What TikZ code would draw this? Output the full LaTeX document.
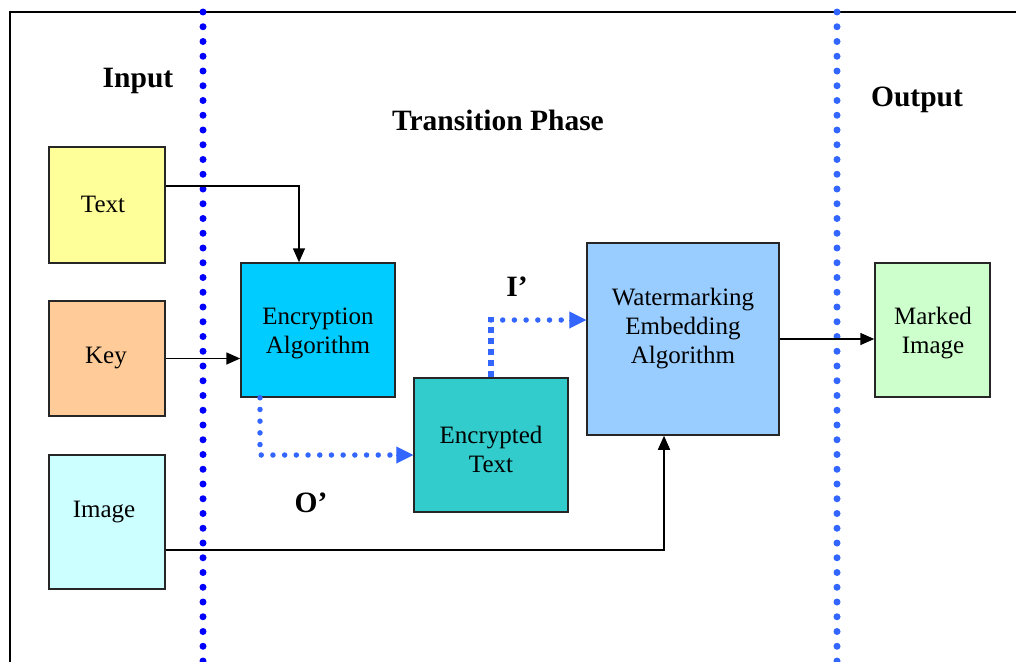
\documentclass[tikz,border=0pt]{standalone}
\usepackage{fontspec}
\setmainfont{Liberation Serif}
\usetikzlibrary{arrows.meta,calc}
\definecolor{cText}{HTML}{FFFF99}
\definecolor{cKey}{HTML}{FFCC99}
\definecolor{cImg}{HTML}{CCFFFF}
\definecolor{cEnc}{HTML}{00CCFF}
\definecolor{cEt}{HTML}{33CCCC}
\definecolor{cWm}{HTML}{99CCFF}
\definecolor{cMk}{HTML}{CCFFCC}
\definecolor{dotA}{HTML}{0000FF}
\definecolor{dotB}{HTML}{3366FF}
\tikzset{
  box/.style={draw=black!85, line width=1.5pt, inner sep=0pt},
  boxtext/.style={align=center, font=\fontsize{25}{29}\selectfont, inner sep=0pt},
  title/.style={font=\fontsize{29.5}{33}\selectfont\bfseries, inner sep=0pt},
  arr/.style={line width=1.6pt, -{Triangle[length=14pt,width=12pt]}},
  divider/.style={line width=7pt, line cap=round, dash pattern=on 0pt off 14.75pt},
  dotflow/.style={dotB, line width=5.5pt, line cap=round, dash pattern=on 0pt off 11.7pt},
  sqflow/.style={dotB, line width=6pt, dash pattern=on 6pt off 5pt},
  bluetip/.style={dotB, line width=1pt, -{Triangle[length=17pt,width=17pt]}},
}
\begin{document}
\begin{tikzpicture}[x=1pt,y=-1pt]
\useasboundingbox (0,0) rectangle (1016,661);
% frame
\coordinate (ftl) at (10,12);
\coordinate (ftr) at (1016,12);
\coordinate (fbl) at (10,661);
\draw[line width=2pt, line cap=rect] (ftr) -- (ftl) -- (fbl);
% dividers
\coordinate (d1t) at (203,12);
\coordinate (d1b) at (203,661);
\coordinate (d2t) at (837,12);
\coordinate (d2b) at (837,661);
\draw[divider, dotA] (d1t) -- (d1b);
\draw[divider, dotB] (d2t) -- (d2b);
% titles
\node[title] (tin) at (138,81) {Input};
\node[title] (ttr) at (498,120) {Transition Phase};
\node[title] (tout) at (917,100) {Output};
\node[title] (tI) at (517,287) {I’};
\node[title] (tO) at (311,503) {O’};
% boxes
\node[box, fill=cText, minimum width=116pt, minimum height=116pt] (txt) at (107,205) {};
\node[box, fill=cKey, minimum width=116pt, minimum height=115pt] (key) at (107,358.5) {};
\node[box, fill=cImg, minimum width=116pt, minimum height=134pt] (img) at (107,522) {};
\node[box, fill=cEnc, minimum width=154pt, minimum height=134pt] (enc) at (318,330) {};
\node[box, fill=cEt, minimum width=154pt, minimum height=134pt] (et) at (491,445) {};
\node[box, fill=cWm, minimum width=192pt, minimum height=192pt] (wm) at (683,339) {};
\node[box, fill=cMk, minimum width=115pt, minimum height=134pt] (mk) at (932.5,330) {};
% box texts
\node[boxtext] (ltxt) at (103,204) {Text};
\node[boxtext] (lkey) at (106,358) {Key};
\node[boxtext] (limg) at (104,512) {Image};
\node[boxtext] (lenc) at (318,333) {Encryption\\Algorithm};
\node[boxtext] (let) at (491,449) {Encrypted\\Text};
\node[boxtext] (lwm) at (683,329) {Watermarking\\Embedding\\Algorithm};
\node[boxtext] (lmk) at (933,333) {Marked\\Image};
% black connectors
\draw[arr] ([yshift=19]txt.east) -| ([xshift=-19]enc.north);
\draw[arr] (key.east) -- (key.east -| enc.west);
\draw[arr] ([yshift=-28]img.east) -| ([xshift=-19]wm.south);
\draw[arr] (wm.east) -- (wm.east -| mk.west);
% blue dotted connectors
\coordinate (c1) at (260,455);
\coordinate (c2) at (491,320);
\draw[dotflow] (enc.south -| c1) -- (c1) -- ([xshift=-18]c1 -| et.west);
\draw[bluetip] ([xshift=-17]c1 -| et.west) -- (c1 -| et.west);
\draw[sqflow] (et.north) -- ([yshift=3]c2);
\draw[dotflow] (c2) -- ([xshift=-18]c2 -| wm.west);
\draw[bluetip] ([xshift=-17]c2 -| wm.west) -- (c2 -| wm.west);
\end{tikzpicture}
\end{document}
